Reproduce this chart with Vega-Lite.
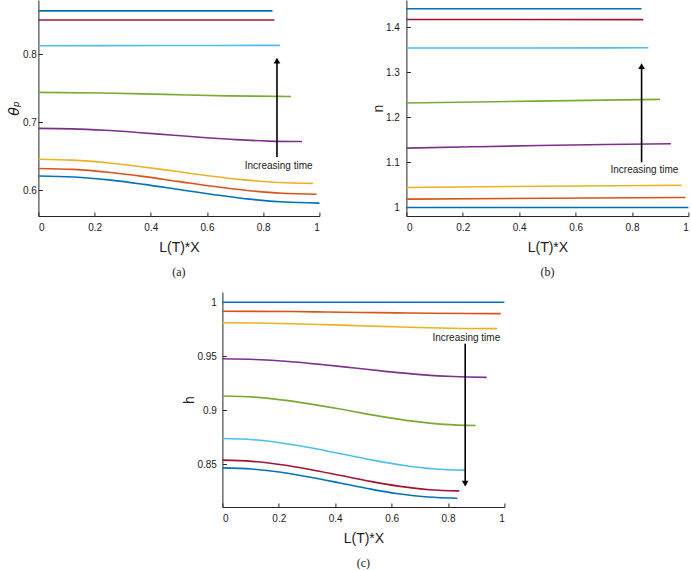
{
  "$schema": "https://vega.github.io/schema/vega-lite/v6.json",
  "background": "white",
  "padding": {"left": 7, "top": 0, "right": 0, "bottom": 0},
  "config": {
    "view": {"stroke": null},
    "font": "Liberation Sans",
    "axis": {
      "grid": false,
      "domainColor": "#262626",
      "tickColor": "#262626",
      "labelColor": "#1a1a1a",
      "titleColor": "#1a1a1a",
      "labelFont": "Liberation Sans",
      "titleFont": "Liberation Sans",
      "labelFontSize": 10,
      "titleFontSize": 14,
      "titleFontWeight": "normal",
      "tickSize": -4,
      "format": "~g"
    },
    "axisX": {"labelPadding": 10, "titlePadding": 8},
    "axisY": {"labelPadding": 6, "titlePadding": 1},
    "title": {"font": "Liberation Serif", "fontSize": 12, "fontWeight": "normal", "orient": "bottom", "offset": 13, "color": "#1a1a1a"}
  },
  "datasets": {
    "theta": [
      {"t": 1, "x": 0, "y": 0.621}, {"t": 1, "x": 0.125, "y": 0.6195}, {"t": 1, "x": 0.25, "y": 0.6152}, {"t": 1, "x": 0.375, "y": 0.6086}, {"t": 1, "x": 0.5, "y": 0.601}, {"t": 1, "x": 0.625, "y": 0.5934}, {"t": 1, "x": 0.75, "y": 0.5868}, {"t": 1, "x": 0.875, "y": 0.5825}, {"t": 1, "x": 1, "y": 0.581},
      {"t": 2, "x": 0, "y": 0.632}, {"t": 2, "x": 0.124, "y": 0.6306}, {"t": 2, "x": 0.248, "y": 0.6264}, {"t": 2, "x": 0.371, "y": 0.6203}, {"t": 2, "x": 0.495, "y": 0.613}, {"t": 2, "x": 0.619, "y": 0.6057}, {"t": 2, "x": 0.743, "y": 0.5996}, {"t": 2, "x": 0.866, "y": 0.5954}, {"t": 2, "x": 0.99, "y": 0.594},
      {"t": 3, "x": 0, "y": 0.6456}, {"t": 3, "x": 0.122, "y": 0.6442}, {"t": 3, "x": 0.244, "y": 0.6404}, {"t": 3, "x": 0.366, "y": 0.6346}, {"t": 3, "x": 0.489, "y": 0.6278}, {"t": 3, "x": 0.611, "y": 0.621}, {"t": 3, "x": 0.733, "y": 0.6152}, {"t": 3, "x": 0.855, "y": 0.6114}, {"t": 3, "x": 0.977, "y": 0.61},
      {"t": 4, "x": 0, "y": 0.691}, {"t": 4, "x": 0.117, "y": 0.6903}, {"t": 4, "x": 0.235, "y": 0.6882}, {"t": 4, "x": 0.352, "y": 0.685}, {"t": 4, "x": 0.469, "y": 0.6813}, {"t": 4, "x": 0.586, "y": 0.6776}, {"t": 4, "x": 0.704, "y": 0.6744}, {"t": 4, "x": 0.821, "y": 0.6723}, {"t": 4, "x": 0.938, "y": 0.6716},
      {"t": 5, "x": 0, "y": 0.744}, {"t": 5, "x": 0.225, "y": 0.7431}, {"t": 5, "x": 0.45, "y": 0.741}, {"t": 5, "x": 0.674, "y": 0.7389}, {"t": 5, "x": 0.899, "y": 0.738},
      {"t": 6, "x": 0, "y": 0.8127}, {"t": 6, "x": 0.43, "y": 0.813}, {"t": 6, "x": 0.86, "y": 0.8132},
      {"t": 7, "x": 0, "y": 0.8506}, {"t": 7, "x": 0.84, "y": 0.8506},
      {"t": 8, "x": 0, "y": 0.864}, {"t": 8, "x": 0.833, "y": 0.864}
    ],
    "n": [
      {"t": 1, "x": 0, "y": 1}, {"t": 1, "x": 1, "y": 1},
      {"t": 2, "x": 0, "y": 1.0184}, {"t": 2, "x": 0.495, "y": 1.0204}, {"t": 2, "x": 0.99, "y": 1.0221},
      {"t": 3, "x": 0, "y": 1.0442}, {"t": 3, "x": 0.488, "y": 1.047}, {"t": 3, "x": 0.976, "y": 1.0493},
      {"t": 4, "x": 0, "y": 1.1316}, {"t": 4, "x": 0.235, "y": 1.1345}, {"t": 4, "x": 0.469, "y": 1.1372}, {"t": 4, "x": 0.704, "y": 1.1395}, {"t": 4, "x": 0.938, "y": 1.1413},
      {"t": 5, "x": 0, "y": 1.2316}, {"t": 5, "x": 0.45, "y": 1.2358}, {"t": 5, "x": 0.899, "y": 1.2397},
      {"t": 6, "x": 0, "y": 1.3535}, {"t": 6, "x": 0.43, "y": 1.3537}, {"t": 6, "x": 0.858, "y": 1.354},
      {"t": 7, "x": 0, "y": 1.4168}, {"t": 7, "x": 0.84, "y": 1.4165},
      {"t": 8, "x": 0, "y": 1.4405}, {"t": 8, "x": 0.834, "y": 1.4405}
    ],
    "h": [
      {"t": 1, "x": 0, "y": 1}, {"t": 1, "x": 1, "y": 1},
      {"t": 2, "x": 0, "y": 0.9917}, {"t": 2, "x": 0.123, "y": 0.9916}, {"t": 2, "x": 0.247, "y": 0.9914}, {"t": 2, "x": 0.37, "y": 0.991}, {"t": 2, "x": 0.494, "y": 0.9906}, {"t": 2, "x": 0.617, "y": 0.9902}, {"t": 2, "x": 0.74, "y": 0.9898}, {"t": 2, "x": 0.864, "y": 0.9896}, {"t": 2, "x": 0.987, "y": 0.9895},
      {"t": 3, "x": 0, "y": 0.981}, {"t": 3, "x": 0.122, "y": 0.9808}, {"t": 3, "x": 0.244, "y": 0.9802}, {"t": 3, "x": 0.365, "y": 0.9793}, {"t": 3, "x": 0.487, "y": 0.9783}, {"t": 3, "x": 0.609, "y": 0.9773}, {"t": 3, "x": 0.731, "y": 0.9764}, {"t": 3, "x": 0.852, "y": 0.9758}, {"t": 3, "x": 0.974, "y": 0.9756},
      {"t": 4, "x": 0, "y": 0.9478}, {"t": 4, "x": 0.117, "y": 0.9471}, {"t": 4, "x": 0.234, "y": 0.9453}, {"t": 4, "x": 0.351, "y": 0.9425}, {"t": 4, "x": 0.469, "y": 0.9392}, {"t": 4, "x": 0.586, "y": 0.9359}, {"t": 4, "x": 0.703, "y": 0.9331}, {"t": 4, "x": 0.82, "y": 0.9313}, {"t": 4, "x": 0.937, "y": 0.9306},
      {"t": 5, "x": 0, "y": 0.9133}, {"t": 5, "x": 0.112, "y": 0.9123}, {"t": 5, "x": 0.225, "y": 0.9093}, {"t": 5, "x": 0.337, "y": 0.9049}, {"t": 5, "x": 0.449, "y": 0.8997}, {"t": 5, "x": 0.561, "y": 0.8945}, {"t": 5, "x": 0.674, "y": 0.8901}, {"t": 5, "x": 0.786, "y": 0.8871}, {"t": 5, "x": 0.898, "y": 0.8861},
      {"t": 6, "x": 0, "y": 0.874}, {"t": 6, "x": 0.108, "y": 0.8729}, {"t": 6, "x": 0.215, "y": 0.8697}, {"t": 6, "x": 0.323, "y": 0.865}, {"t": 6, "x": 0.43, "y": 0.8594}, {"t": 6, "x": 0.538, "y": 0.8538}, {"t": 6, "x": 0.645, "y": 0.8491}, {"t": 6, "x": 0.753, "y": 0.8459}, {"t": 6, "x": 0.86, "y": 0.8448},
      {"t": 7, "x": 0, "y": 0.854}, {"t": 7, "x": 0.105, "y": 0.8529}, {"t": 7, "x": 0.21, "y": 0.8498}, {"t": 7, "x": 0.315, "y": 0.8452}, {"t": 7, "x": 0.42, "y": 0.8398}, {"t": 7, "x": 0.525, "y": 0.8344}, {"t": 7, "x": 0.63, "y": 0.8298}, {"t": 7, "x": 0.735, "y": 0.8267}, {"t": 7, "x": 0.84, "y": 0.8256},
      {"t": 8, "x": 0, "y": 0.8469}, {"t": 8, "x": 0.104, "y": 0.8458}, {"t": 8, "x": 0.208, "y": 0.8428}, {"t": 8, "x": 0.312, "y": 0.8382}, {"t": 8, "x": 0.417, "y": 0.8329}, {"t": 8, "x": 0.521, "y": 0.8275}, {"t": 8, "x": 0.625, "y": 0.8229}, {"t": 8, "x": 0.729, "y": 0.8199}, {"t": 8, "x": 0.833, "y": 0.8188}
    ]
  },
  "vconcat": [
    {
      "hconcat": [
        {
          "width": 281,
          "height": 216,
          "title": {"text": "(a)"},
          "encoding": {
            "x": {"field": "x", "type": "quantitative", "scale": {"domain": [0, 1], "nice": false, "zero": false}, "axis": {"title": "L(T)*X", "values": [0, 0.2, 0.4, 0.6, 0.8, 1]}},
            "y": {"field": "y", "type": "quantitative", "scale": {"domain": [0.562, 0.88], "nice": false, "zero": false}, "axis": {"title": "θₚ", "values": [0.6, 0.7, 0.8], "titleFont": "DejaVu Sans", "titleFontStyle": "italic"}}
          },
          "layer": [
            {
              "data": {"name": "theta"},
              "mark": {"type": "line", "strokeWidth": 1.6, "interpolate": "monotone"},
              "encoding": {"color": {"field": "t", "type": "nominal", "scale": {"domain": [1, 2, 3, 4, 5, 6, 7, 8], "range": ["#0072BD", "#D95319", "#EDB120", "#7E2F8E", "#77AC30", "#4DBEEE", "#A2142F", "#0072BD"]}, "legend": null}}
            },
            {
              "data": {"values": [{"x": 0.849, "y": 0.649, "y2": 0.791}]},
              "mark": {"type": "rule", "color": "black", "strokeWidth": 1.6},
              "encoding": {"y2": {"field": "y2"}}
            },
            {
              "data": {"values": [{"x": 0.849, "y": 0.7907}]},
              "mark": {"type": "point", "shape": "triangle-up", "filled": true, "color": "black", "opacity": 1, "size": 45}
            },
            {
              "data": {"values": [{"x": 0.855, "y": 0.6359, "label": "Increasing time"}]},
              "mark": {"type": "text", "fontSize": 10, "color": "#1a1a1a", "font": "Liberation Sans"},
              "encoding": {"text": {"field": "label"}}
            }
          ]
        },
        {
          "width": 282,
          "height": 216,
          "title": {"text": "(b)"},
          "encoding": {
            "x": {"field": "x", "type": "quantitative", "scale": {"domain": [0, 1], "nice": false, "zero": false}, "axis": {"title": "L(T)*X", "values": [0, 0.2, 0.4, 0.6, 0.8, 1]}},
            "y": {"field": "y", "type": "quantitative", "scale": {"domain": [0.981, 1.46], "nice": false, "zero": false}, "axis": {"title": "n", "values": [1, 1.1, 1.2, 1.3, 1.4], "labelPadding": 11, "titlePadding": 0}}
          },
          "layer": [
            {
              "data": {"name": "n"},
              "mark": {"type": "line", "strokeWidth": 1.6, "interpolate": "monotone"},
              "encoding": {"color": {"field": "t", "type": "nominal", "scale": {"domain": [1, 2, 3, 4, 5, 6, 7, 8], "range": ["#0072BD", "#D95319", "#EDB120", "#7E2F8E", "#77AC30", "#4DBEEE", "#A2142F", "#0072BD"]}, "legend": null}}
            },
            {
              "data": {"values": [{"x": 0.834, "y": 1.1, "y2": 1.313}]},
              "mark": {"type": "rule", "color": "black", "strokeWidth": 1.6},
              "encoding": {"y2": {"field": "y2"}}
            },
            {
              "data": {"values": [{"x": 0.834, "y": 1.3133}]},
              "mark": {"type": "point", "shape": "triangle-up", "filled": true, "color": "black", "opacity": 1, "size": 45}
            },
            {
              "data": {"values": [{"x": 0.844, "y": 1.0838, "label": "Increasing time"}]},
              "mark": {"type": "text", "fontSize": 10, "color": "#1a1a1a", "font": "Liberation Sans"},
              "encoding": {"text": {"field": "label"}}
            }
          ]
        }
      ],
      "spacing": 48
    },
    {
      "width": 282,
      "height": 215,
      "title": {"text": "(c)"},
      "encoding": {
        "x": {"field": "x", "type": "quantitative", "scale": {"domain": [0, 1], "nice": false, "zero": false}, "axis": {"title": "L(T)*X", "values": [0, 0.2, 0.4, 0.6, 0.8, 1]}},
        "y": {"field": "y", "type": "quantitative", "scale": {"domain": [0.8107, 1.0095], "nice": false, "zero": false}, "axis": {"title": "h", "values": [0.85, 0.9, 0.95, 1], "labelPadding": 10, "titlePadding": 0}}
      },
      "layer": [
        {
          "data": {"name": "h"},
          "mark": {"type": "line", "strokeWidth": 1.6, "interpolate": "monotone"},
          "encoding": {"color": {"field": "t", "type": "nominal", "scale": {"domain": [1, 2, 3, 4, 5, 6, 7, 8], "range": ["#0072BD", "#D95319", "#EDB120", "#7E2F8E", "#77AC30", "#4DBEEE", "#A2142F", "#0072BD"]}, "legend": null}}
        },
        {
          "data": {"values": [{"x": 0.861, "y": 0.9617, "y2": 0.8324}]},
          "mark": {"type": "rule", "color": "black", "strokeWidth": 1.6},
          "encoding": {"y2": {"field": "y2"}}
        },
        {
          "data": {"values": [{"x": 0.861, "y": 0.8324}]},
          "mark": {"type": "point", "shape": "triangle-down", "filled": true, "color": "black", "opacity": 1, "size": 45}
        },
        {
          "data": {"values": [{"x": 0.865, "y": 0.9673, "label": "Increasing time"}]},
          "mark": {"type": "text", "fontSize": 10, "color": "#1a1a1a", "font": "Liberation Sans"},
          "encoding": {"text": {"field": "label"}}
        }
      ]
    }
  ],
  "spacing": 14,
  "center": true
}
